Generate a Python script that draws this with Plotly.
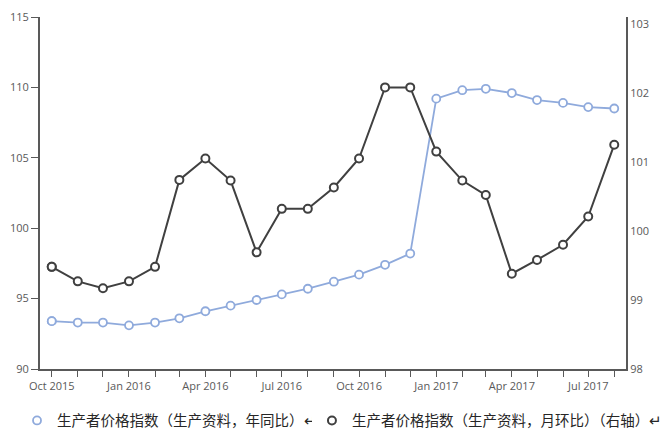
import plotly.graph_objects as go
import pandas as pd

# monthly data, Oct 2015 - Aug 2017
months = pd.date_range("2015-10-01", "2017-08-01", freq="MS")

# producer goods PPI, year on year (left axis)
ppi_yoy = [93.4, 93.3, 93.3, 93.1, 93.3, 93.6, 94.1, 94.5, 94.9, 95.3, 95.7, 96.2,
           96.7, 97.4, 98.2, 109.2, 109.8, 109.9, 109.6, 109.1, 108.9, 108.6, 108.5]

# producer goods PPI, month on month (right axis)
ppi_mom = [99.48, 99.27, 99.17, 99.27, 99.48, 100.74, 101.05, 100.73, 99.69, 100.32,
           100.32, 100.63, 101.05, 102.08, 102.08, 101.15, 100.73, 100.52, 99.38, 99.58,
           99.80, 100.21, 101.25]

name_yoy = "生产者价格指数（生产资料，年同比）↵"
name_mom = "生产者价格指数（生产资料，月环比）（右轴）↵"

blue = "#8faadc"
dark = "#404040"
axis_col = "#595959"
font = "Open Sans, DejaVu Sans, Noto Sans CJK SC"

fig = go.Figure()

fig.add_trace(go.Scatter(
    x=months, y=ppi_yoy, name=name_yoy, mode="lines+markers", showlegend=False,
    line=dict(color=blue, width=1.8),
    marker=dict(symbol="circle", size=8, color="white", line=dict(color=blue, width=1.8)),
))
fig.add_trace(go.Scatter(
    x=months, y=ppi_mom, name=name_mom, mode="lines+markers", yaxis="y2", showlegend=False,
    line=dict(color=dark, width=2),
    marker=dict(symbol="circle", size=8, color="white", line=dict(color=dark, width=2)),
))

# legend entries: just the open circle, like the original
# (drawn over the first point of each series, so nothing new shows in the plot)
fig.add_trace(go.Scatter(
    x=months[:1], y=ppi_yoy[:1], name=name_yoy, mode="markers", legend="legend",
    hoverinfo="skip",
    marker=dict(symbol="circle", size=8, color="white", line=dict(color=blue, width=1.8)),
))
fig.add_trace(go.Scatter(
    x=months[:1], y=ppi_mom[:1], name=name_mom, mode="markers", yaxis="y2", legend="legend2",
    hoverinfo="skip",
    marker=dict(symbol="circle", size=8, color="white", line=dict(color=dark, width=2)),
))

leg_font = dict(size=14.5, color="#262626", family="Noto Sans CJK SC")

# note: the page body has an 8px margin, so margins are shifted by 8
fig.update_layout(
    width=668, height=446,
    margin=dict(l=32, r=50, t=9, b=85),
    paper_bgcolor="white", plot_bgcolor="white",
    font=dict(family=font, size=11, color=axis_col),
    showlegend=True,
    legend=dict(orientation="h", xref="container", yref="container", x=0.0135, xanchor="left",
                y=0.075, yanchor="middle", font=leg_font, itemwidth=30),
    legend2=dict(orientation="h", xref="container", yref="container", x=0.455, xanchor="left",
                 y=0.075, yanchor="middle", font=leg_font, itemwidth=30),
    xaxis=dict(
        type="date", automargin=False,
        range=["2015-09-17", "2017-08-15"],
        tick0="2015-10-01", dtick="M3", tickformat="%b %Y",
        ticks="outside", ticklen=6, tickcolor=axis_col,
        minor=dict(dtick="M1", tick0="2015-10-01", ticks="outside", ticklen=6, tickcolor=axis_col),
        showline=True, linecolor=axis_col, linewidth=2,
        showgrid=False, zeroline=False,
        tickfont=dict(size=11, color=axis_col),
    ),
    yaxis=dict(
        range=[90, 115], dtick=5, automargin=False, ticklabeloverflow="allow",
        ticks="outside", ticklen=7, tickcolor=axis_col,
        showline=True, linecolor=axis_col, linewidth=2,
        showgrid=False, zeroline=False,
        tickfont=dict(size=11, color=axis_col),
    ),
    yaxis2=dict(
        overlaying="y", side="right", automargin=False, ticklabeloverflow="allow",
        range=[98, 103.1], dtick=1,
        ticks="", showline=True, linecolor=axis_col, linewidth=2,
        showgrid=False, zeroline=False,
        tickfont=dict(size=11, color=axis_col),
    ),
)

fig.write_html("out.html")
